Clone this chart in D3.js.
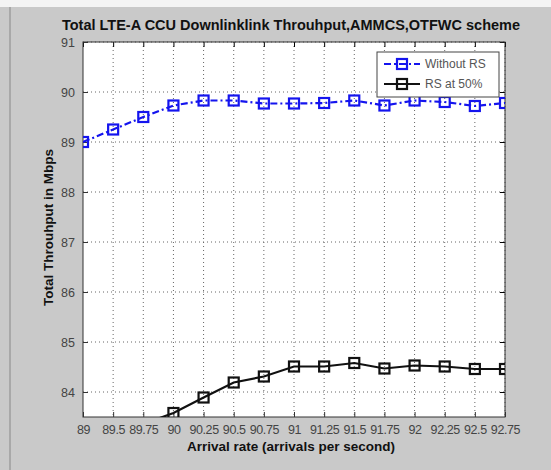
<!DOCTYPE html>
<html>
<head>
<meta charset="utf-8">
<script src="https://cdn.jsdelivr.net/npm/d3@7"></script>
<style>
  body { margin: 0; background: #fff; }
  svg { display: block; font-family: Arial, "Liberation Sans", sans-serif; }
</style>
</head>
<body>
<div id="chart"></div>
<script>
// Data
const categories = ['89', '89.5', '89.75', '90', '90.25', '90.5', '90.75', '91', '91.25', '91.5', '91.75', '92', '92.25', '92.5', '92.75'];
const withoutRS = [89.0, 89.25, 89.5, 89.73, 89.83, 89.83, 89.77, 89.77, 89.78, 89.83, 89.73, 89.83, 89.8, 89.72, 89.78];
// RS at 50% starts at 89.75 (below the visible range there)
const rs50Cats = categories.slice(2);
const rs50 = [83.36, 83.58, 83.89, 84.19, 84.31, 84.51, 84.51, 84.58, 84.47, 84.53, 84.51, 84.46, 84.46];
const yTicks = [84, 85, 86, 87, 88, 89, 90, 91];

const W = 551, H = 470;
const margin = { top: 42, right: 46, bottom: 53, left: 83 };
const width = W - margin.left - margin.right;
const height = H - margin.top - margin.bottom;

const root = d3.select('#chart').append('svg')
    .attr('width', W)
    .attr('height', H);

// Figure background (grey matlab window)
root.append('rect').attr('width', W).attr('height', H).attr('fill', '#c9c9c9');
root.append('rect').attr('width', W).attr('height', 7).attr('fill', '#f4f4f4');
root.append('line').attr('x1', 10).attr('x2', 10).attr('y1', 7).attr('y2', H)
    .attr('stroke', '#a8a8a8').attr('stroke-width', 2);

const svg = root.append('g')
    .attr('transform', `translate(${margin.left},${margin.top})`);

// Scales
const x = d3.scalePoint()
    .domain(categories)
    .range([0, width]);

const y = d3.scaleLinear()
    .domain([83.5, 91])
    .range([height, 0]);

// Axes area
svg.append('rect')
    .attr('width', width)
    .attr('height', height)
    .attr('fill', '#fff');

// Grid
svg.append('g')
    .selectAll('line')
    .data(categories.slice(1))
    .enter()
    .append('line')
    .attr('x1', d => x(d)).attr('x2', d => x(d))
    .attr('y1', 0).attr('y2', height)
    .attr('stroke', '#666')
    .attr('stroke-width', 1)
    .attr('stroke-dasharray', '1,3');

svg.append('g')
    .selectAll('line')
    .data(yTicks)
    .enter()
    .append('line')
    .attr('x1', 0).attr('x2', width)
    .attr('y1', d => y(d)).attr('y2', d => y(d))
    .attr('stroke', '#666')
    .attr('stroke-width', 1)
    .attr('stroke-dasharray', '1,3');

// X axis
const xAxis = svg.append('g')
    .attr('transform', `translate(0, ${height})`)
    .call(d3.axisBottom(x).tickSize(-5).tickPadding(8));
xAxis.selectAll('text')
    .style('font-size', '12.5px')
    .attr('fill', '#444')
    .attr('letter-spacing', '-0.4px');

// Y axis
const yAxis = svg.append('g')
    .call(d3.axisLeft(y).tickValues(yTicks).tickSize(-5).tickPadding(8));
yAxis.selectAll('text')
    .style('font-size', '12.5px')
    .attr('fill', '#444');

svg.selectAll('.domain').remove();
svg.selectAll('.tick line').attr('stroke', '#333');

// Top and right ticks
svg.append('g')
    .call(d3.axisTop(x).tickSize(-5).tickFormat(''))
    .select('.domain').remove();
svg.append('g')
    .attr('transform', `translate(${width},0)`)
    .call(d3.axisRight(y).tickValues(yTicks).tickSize(-5).tickFormat(''))
    .select('.domain').remove();

// Axes box
svg.append('rect')
    .attr('width', width)
    .attr('height', height)
    .attr('fill', 'none')
    .attr('stroke', '#333')
    .attr('stroke-width', 1);

// Clip for data
svg.append('clipPath').attr('id', 'plot-clip')
    .append('rect').attr('width', width).attr('height', height);

const plot = svg.append('g').attr('clip-path', 'url(#plot-clip)');

const line = d3.line()
    .x(d => x(d[0]))
    .y(d => y(d[1]));

const blueData = categories.map((c, i) => [c, withoutRS[i]]);
const blackData = rs50Cats.map((c, i) => [c, rs50[i]]);

const series = [
    { name: 'Without RS', data: blueData, color: '#1414ee', dash: '7,3,2,3' },
    { name: 'RS at 50%', data: blackData, color: '#111', dash: null }
];

series.forEach(s => {
    plot.append('path')
        .datum(s.data)
        .attr('d', line)
        .attr('fill', 'none')
        .attr('stroke', s.color)
        .attr('stroke-width', 2.2)
        .attr('stroke-dasharray', s.dash);

    plot.selectAll(null)
        .data(s.data)
        .enter()
        .append('rect')
        .attr('x', d => x(d[0]) - 5)
        .attr('y', d => y(d[1]) - 5)
        .attr('width', 10)
        .attr('height', 10)
        .attr('fill', 'none')
        .attr('stroke', s.color)
        .attr('stroke-width', 2.2);
});

// Legend
const legend = svg.append('g')
    .attr('transform', `translate(${377 - margin.left}, ${52 - margin.top})`);

legend.append('rect')
    .attr('width', 122)
    .attr('height', 45)
    .attr('fill', '#fff')
    .attr('stroke', '#444')
    .attr('stroke-width', 1);

const legendItems = legend.selectAll('.legend-item')
    .data(series)
    .enter()
    .append('g')
    .attr('class', 'legend-item')
    .attr('transform', (d, i) => `translate(0, ${12 + i * 20})`);

legendItems.append('line')
    .attr('x1', 7).attr('x2', 43)
    .attr('y1', 0).attr('y2', 0)
    .attr('stroke', d => d.color)
    .attr('stroke-width', 2.2)
    .attr('stroke-dasharray', d => d.dash);

legendItems.append('rect')
    .attr('x', 20).attr('y', -5)
    .attr('width', 10).attr('height', 10)
    .attr('fill', 'none')
    .attr('stroke', d => d.color)
    .attr('stroke-width', 2.2);

legendItems.append('text')
    .attr('x', 48)
    .attr('y', 0)
    .attr('dy', '0.35em')
    .style('font-size', '12px')
    .attr('fill', '#555')
    .text(d => d.name);

// Title and axis labels
root.append('text')
    .attr('x', 291)
    .attr('y', 30)
    .attr('text-anchor', 'middle')
    .style('font-size', '14.5px')
    .style('font-weight', 'bold')
    .attr('fill', '#111')
    .text('Total LTE-A CCU Downlinklink Throuhput,AMMCS,OTFWC scheme');

root.append('text')
    .attr('x', 291)
    .attr('y', 451)
    .attr('text-anchor', 'middle')
    .style('font-size', '13.5px')
    .style('font-weight', 'bold')
    .attr('fill', '#111')
    .text('Arrival rate (arrivals per second)');

root.append('text')
    .attr('transform', `translate(53, ${margin.top + height / 2 - 2}) rotate(-90)`)
    .attr('text-anchor', 'middle')
    .style('font-size', '13.5px')
    .style('font-weight', 'bold')
    .attr('fill', '#111')
    .text('Total Throuhput in Mbps');
</script>
</body>
</html>
